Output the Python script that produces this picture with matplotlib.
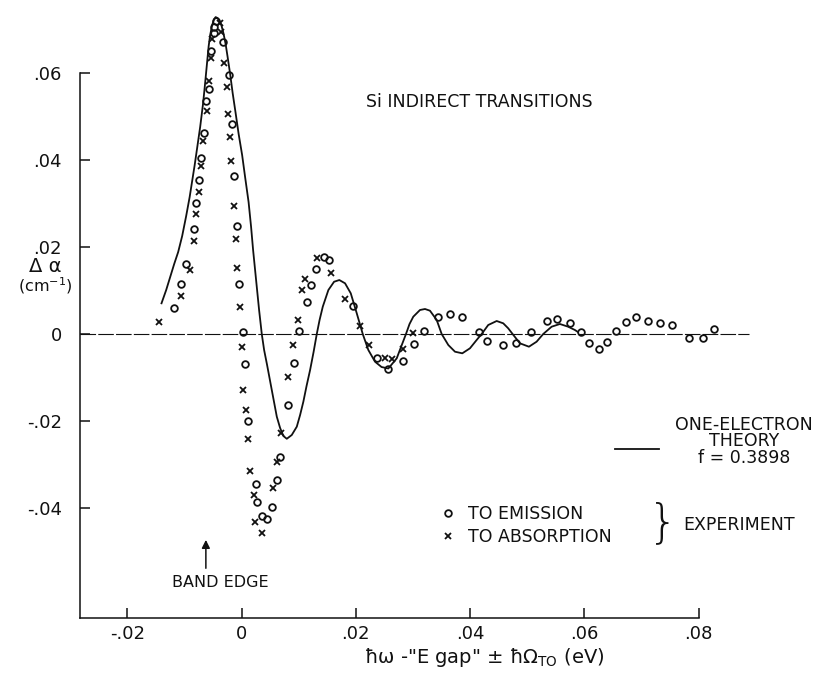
import matplotlib
matplotlib.use('Agg')
import matplotlib.pyplot as plt

ink = '#111111'

# one-electron theory curve, f = 0.3898
theory_x = [-0.01403, -0.01321, -0.01251, -0.01181, -0.01111, -0.01041, -0.00971, -0.00910,
            -0.00866, -0.00822, -0.00779, -0.00726, -0.00674, -0.00639, -0.00604, -0.00577,
            -0.00551, -0.00516, -0.00481, -0.00455, -0.00420, -0.00385, -0.00350, -0.00315,
            -0.00280, -0.00245, -0.00201, -0.00157, -0.00105, -0.00052, 0.00009, 0.00061,
            0.00122, 0.00166, 0.00201, 0.00236, 0.00271, 0.00306, 0.00353, 0.00394,
            0.00446, 0.00528, 0.00616, 0.00674, 0.00731, 0.00791, 0.00878, 0.00966,
            0.01024, 0.01081, 0.01137, 0.01199, 0.01260, 0.01316, 0.01365, 0.01421,
            0.01519, 0.01619, 0.01711, 0.01811, 0.01911, 0.02016, 0.02121, 0.02219,
            0.02336, 0.02450, 0.02569, 0.02716, 0.02791, 0.02878, 0.02940, 0.03006,
            0.03123, 0.03211, 0.03298, 0.03416, 0.03503, 0.03619, 0.03736, 0.03864,
            0.03998, 0.04115, 0.04203, 0.04318, 0.04466, 0.04581, 0.04668, 0.04745,
            0.04873, 0.05031, 0.05165, 0.05281, 0.05428, 0.05573, 0.05718, 0.05836, 0.05888]
theory_y = [0.00706, 0.01011, 0.01310, 0.01609, 0.01885, 0.02253, 0.02713, 0.03149,
            0.03517, 0.03885, 0.04276, 0.04759, 0.05310, 0.05770, 0.06253, 0.06621,
            0.06874, 0.07103, 0.07241, 0.07287, 0.07264, 0.07195, 0.07080, 0.06897,
            0.06667, 0.06368, 0.05977, 0.05540, 0.05080, 0.04598, 0.04115, 0.03609,
            0.03034, 0.02460, 0.01931, 0.01471, 0.01011, 0.00552, 0.0, -0.00368,
            -0.00713, -0.01287, -0.01901, -0.02161, -0.02345, -0.02409, -0.02322, -0.02131,
            -0.01862, -0.01556, -0.01195, -0.00828, -0.00414, 0.0, 0.00322, 0.00628,
            0.01011, 0.01202, 0.01241, 0.01166, 0.00936, 0.00476, 0.0, -0.00368,
            -0.00637, -0.00759, -0.00793, -0.00559, -0.00299, 0.0, 0.00230, 0.00398,
            0.00552, 0.00575, 0.00536, 0.00322, 0.0, -0.00253, -0.00407, -0.00444,
            -0.00329, -0.00138, 0.0, 0.00207, 0.00299, 0.00246, 0.00131, 0.0,
            -0.00214, -0.00292, -0.00177, 0.0, 0.00168, 0.00230, 0.00168, 0.00092, 0.00046]

# TO emission (circles)
emis_x = [-0.00451, -0.00476, -0.00476, -0.00329, -0.00539, -0.00213, -0.00563, -0.00621,
          -0.00166, -0.00651, -0.00703, -0.00131, -0.00738, -0.00791, -0.00079, -0.00835,
          -0.00971, -0.00052, -0.01064, -0.01186, 0.00031, 0.00052, 0.00119, 0.00254,
          0.00276, 0.00353, 0.00441, 0.00528, 0.00616, 0.00674, 0.00814, 0.00910,
          0.01001, 0.01146, 0.01207, 0.01304, 0.01444, 0.01531, 0.01956, 0.02366,
          0.02569, 0.02821, 0.03027, 0.03197, 0.03433, 0.03648, 0.03858, 0.04150,
          0.04304, 0.04572, 0.04798, 0.05074, 0.05346, 0.05515, 0.05757, 0.05935,
          0.06086, 0.06261, 0.06401, 0.06558, 0.06728, 0.06903, 0.07108, 0.07318,
          0.07528, 0.07836, 0.08070, 0.08263]
emis_y = [0.07202, 0.07064, 0.06926, 0.06720, 0.06513, 0.05954, 0.05632, 0.05356,
          0.04821, 0.04628, 0.04053, 0.03639, 0.03540, 0.03023, 0.02494, 0.02407,
          0.01609, 0.01149, 0.01143, 0.00591, 0.00057, -0.00701, -0.02000, -0.03448,
          -0.03855, -0.04177, -0.04260, -0.03984, -0.03356, -0.02834, -0.01625, -0.00667,
          0.00069, 0.00729, 0.01126, 0.01490, 0.01777, 0.01701, 0.00651, -0.00559,
          -0.00805, -0.00614, -0.00237, 0.00069, 0.00386, 0.00467, 0.00391, 0.00053,
          -0.00161, -0.00246, -0.00200, 0.00053, 0.00303, 0.00349, 0.00260, 0.00053,
          -0.00200, -0.00338, -0.00191, 0.00069, 0.00269, 0.00384, 0.00299, 0.00253,
          0.00200, -0.00092, -0.00085, 0.00108]

# TO absorption (crosses)
abs_x = [-0.01449, -0.01055, -0.00910, -0.00840, -0.00793, -0.00749, -0.00714, -0.00668,
         -0.00609, -0.00574, -0.00539, -0.00516, -0.00376, -0.00359, -0.00301, -0.00259,
         -0.00241, -0.00196, -0.00184, -0.00131, -0.00096, -0.00084, -0.00035, 0.00009,
         0.00030, 0.00082, 0.00114, 0.00154, 0.00219, 0.00236, 0.00353, 0.00546,
         0.00616, 0.00696, 0.00808, 0.00901, 0.00989, 0.01053, 0.01106, 0.01326,
         0.01570, 0.01811, 0.02065, 0.02222, 0.02511, 0.02628, 0.02831, 0.02997]
abs_y = [0.00283, 0.00874, 0.01471, 0.02138, 0.02766, 0.03264, 0.03869, 0.04444,
         0.05133, 0.05823, 0.06338, 0.06775, 0.07143, 0.06949, 0.06237, 0.05671,
         0.05057, 0.04536, 0.03984, 0.02936, 0.02184, 0.01510, 0.00632, -0.00310,
         -0.01287, -0.01747, -0.02425, -0.03143, -0.03701, -0.04315, -0.04568, -0.03547,
         -0.02949, -0.02276, -0.01000, -0.00246, 0.00322, 0.01011, 0.01269, 0.01759,
         0.01395, 0.00805, 0.00189, -0.00264, -0.00559, -0.00582, -0.00352, 0.00034]

xticks = [-0.02, 0, 0.02, 0.04, 0.06, 0.08]
xtick_labels = ['-.02', '0', '.02', '.04', '.06', '.08']
yticks = [-0.04, -0.02, 0, 0.02, 0.04, 0.06]
ytick_labels = ['-.04', '-.02', '0', '.02', '.04', '.06']

fig = plt.figure(figsize=(8.27, 6.73), dpi=100)
ax = fig.add_axes([80 / 827, 55 / 673, 747 / 827, 618 / 673])
ax.set_xlim(-0.0283, 0.1025)
ax.set_ylim(-0.0653, 0.0768)

# zero line
ax.hlines(0, -0.0283, 0.0888, colors=ink, lw=0.8, linestyles=(0, (14, 2)))

ax.plot(theory_x, theory_y, color=ink, lw=1.3)
emis, = ax.plot(emis_x, emis_y, 'o', ms=4.8, mfc='none', mec=ink, mew=1.3,
                clip_on=False, label='TO EMISSION')
absb, = ax.plot(abs_x, abs_y, 'x', ms=4.6, mec=ink, mew=1.3,
                clip_on=False, label='TO ABSORPTION')

# axes look
ax.spines[['top', 'right']].set_visible(False)
ax.spines['left'].set_bounds(-0.0653, 0.06)
ax.spines['bottom'].set_bounds(-0.0283, 0.08)
for s in ['left', 'bottom']:
    ax.spines[s].set_linewidth(1.1)
    ax.spines[s].set_color(ink)
ax.set_xticks(xticks, xtick_labels)
ax.set_yticks(yticks, ytick_labels)
ax.tick_params(direction='in', length=7, width=1.1, color=ink, labelsize=13, labelcolor=ink)
ax.tick_params(axis='x', pad=5)
ax.tick_params(axis='y', pad=13)

# labels
ax.text(-0.03438, 0.01560, 'Δ α', fontsize=14, ha='center', va='center', color=ink, clip_on=False)
ax.text(-0.03438, 0.01120, '(cm$^{-1}$)', fontsize=11.5, ha='center', va='center', color=ink, clip_on=False)
ax.text(0.0424, -0.0744, 'ħω -"E gap" ± ħΩ$_{\\rm TO}$ (eV)', fontsize=14, ha='center',
        va='center', color=ink, clip_on=False)
ax.text(0.0417, 0.0533, 'Si INDIRECT TRANSITIONS', fontsize=12.5, ha='center', va='center', color=ink)

# band edge marker
ax.annotate('', xy=(-0.00626, -0.0467), xytext=(-0.00626, -0.0545),
            arrowprops=dict(arrowstyle='-|>', color=ink, lw=1.1, mutation_scale=12))
ax.text(-0.00376, -0.0572, 'BAND EDGE', fontsize=11.5, ha='center', va='center', color=ink)

# theory key
ax.plot([0.06535, 0.0731], [-0.02651, -0.02651], color=ink, lw=1.3)
ax.text(0.0880, -0.02470, 'ONE-ELECTRON\nTHEORY\nf = 0.3898', fontsize=12.5, ha='center',
        va='center', multialignment='center', linespacing=0.92, color=ink)

# experiment key
leg = ax.legend(handles=[emis, absb], loc='center left', bbox_to_anchor=(443 / 827, 1 - 525.5 / 673),
                bbox_transform=fig.transFigure, frameon=False, fontsize=12.5, handlelength=0.6,
                handletextpad=0.86, borderpad=0, borderaxespad=0, labelspacing=0.25)
for t in leg.get_texts():
    t.set_color(ink)
ax.text(0.07375, -0.04356, '}', fontsize=34, ha='center', va='center', color=ink, fontweight='light')
ax.text(0.07725, -0.04391, 'EXPERIMENT', fontsize=12.5, ha='left', va='center', color=ink)

fig.savefig('out.png', dpi=100)
